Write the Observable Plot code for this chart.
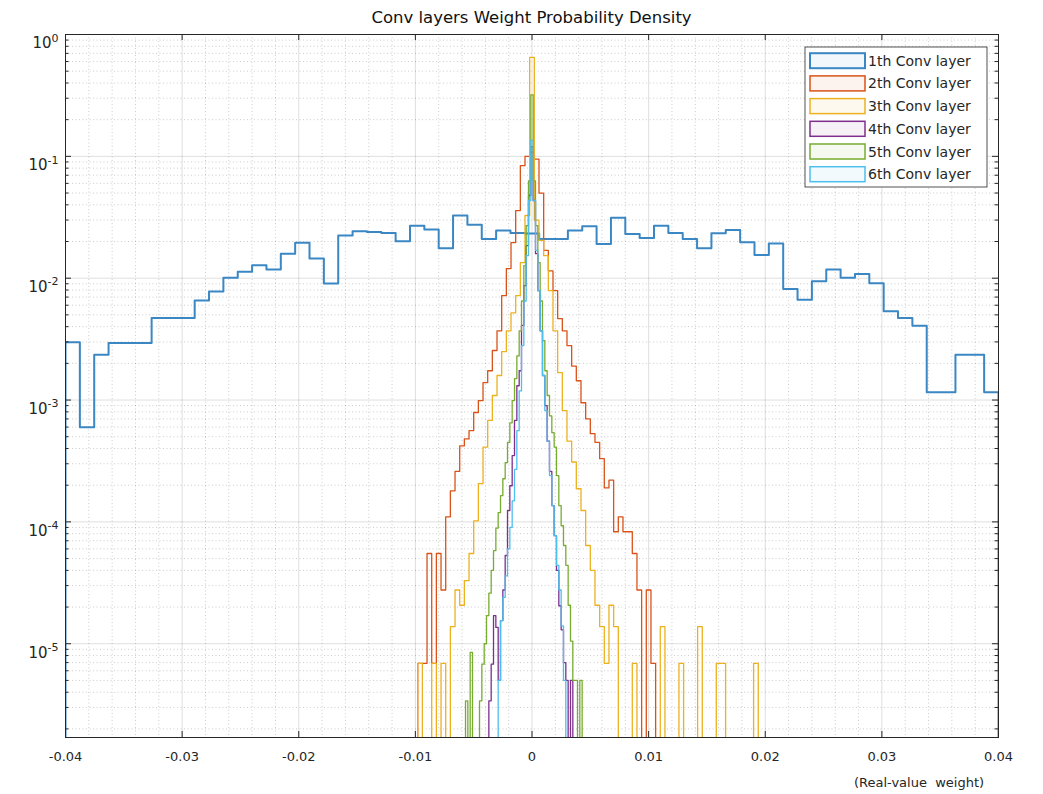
<!DOCTYPE html>
<html>
<head>
<meta charset="utf-8">
<script src="https://cdn.jsdelivr.net/npm/d3@7"></script>
<script src="https://cdn.jsdelivr.net/npm/@observablehq/plot@0.6"></script>
<style>
  html, body { margin: 0; padding: 0; background: #fff; }
</style>
</head>
<body>
<div id="chart"></div>
<script>
// ---------- data ----------
const titleText = "Conv layers Weight Probability Density";
const xLabelText = "(Real-value  weight)";
const seriesNames = ["1th Conv layer", "2th Conv layer", "3th Conv layer", "4th Conv layer", "5th Conv layer", "6th Conv layer"];
const seriesColors = ["#3a87c4", "#D95319", "#EDB120", "#7E2F8E", "#77AC30", "#4DBEEE"];

const xTicks = [-0.04, -0.03, -0.02, -0.01, 0, 0.01, 0.02, 0.03, 0.04];
const yTicks = [1e-5, 1e-4, 1e-3, 1e-2, 1e-1, 1];

// histogram bins: first left edge, bin width, probability per bin
const layer1Start = -0.04, layer1Width = 0.08 / 65;
const layer1 = [0.00298, 0.000597, 0.00235, 0.00294, 0.00294, 0.00294, 0.00472, 0.00472, 0.00472, 0.00655,
  0.00776, 0.0101, 0.0113, 0.0128, 0.0118, 0.0159, 0.0195, 0.0145, 0.00903, 0.0224,
  0.0243, 0.0239, 0.0235, 0.0201, 0.0270, 0.0251, 0.0176, 0.0327, 0.0274, 0.0210,
  0.0246, 0.0235, 0.0233, 0.0210, 0.0210, 0.0246, 0.0267, 0.0191, 0.0313, 0.0231,
  0.0214, 0.0270, 0.0235, 0.0210, 0.0176, 0.0234, 0.0249, 0.0197, 0.0155, 0.0193,
  0.00817, 0.00664, 0.00943, 0.0118, 0.0101, 0.0108, 0.00908, 0.00535, 0.00472, 0.00408,
  0.00116, 0.00116, 0.00235, 0.00235, 0.00116];

const layer2Start = -0.0102, layer2Width = 0.0004;
const layer2 = [0, 6.9e-6, 6.9e-6, 5.5e-5, 6.9e-6, 5.5e-5, 2.76e-5, 1.1e-4, 1.8e-4, 2.6e-4,
  4.2e-4, 4.8e-4, 5.6e-4, 7.9e-4, 9.9e-4, 1.39e-3, 1.74e-3, 2.55e-3, 3.7e-3, 7.2e-3,
  0.012, 0.0196, 0.0359, 0.084, 0.1, 0.108, 0.095, 0.05, 0.0169, 0.0115,
  0.0079, 0.00466, 0.0037, 0.0028, 0.0019, 0.00144, 9.5e-4, 7.0e-4, 5.3e-4, 4.5e-4,
  3.3e-4, 1.9e-4, 2.2e-4, 8.3e-5, 1.1e-4, 8.3e-5, 8.3e-5, 5.5e-5, 2.76e-5, 0,
  2.76e-5, 6.9e-6, 0];

const layer3Start = -0.0102, layer3Width = 0.0004;
const layer3 = [0, 6.9e-6, 0, 0, 6.9e-6, 0, 6.9e-6, 0, 1.38e-5, 2.76e-5,
  2.07e-5, 3.3e-5, 5.5e-5, 1.02e-4, 2.06e-4, 4.1e-4, 6.8e-4, 1.09e-3, 1.59e-3, 2.5e-3,
  3.7e-3, 5.2e-3, 7.2e-3, 0.0134, 0.0327, 0.65, 0.03, 0.0204, 0.0153, 0.0079,
  0.0037, 0.00168, 8.2e-4, 4.6e-4, 3.1e-4, 1.87e-4, 1.24e-4, 6.4e-5, 4.0e-5, 2.07e-5,
  1.38e-5, 6.9e-6, 2.07e-5, 1.38e-5, 0, 0, 0, 6.9e-6, 0, 0,
  0, 0, 0, 1.38e-5, 0, 0, 0, 6.9e-6, 0, 0,
  0, 1.38e-5, 0, 0, 0, 6.9e-6, 6.9e-6, 0, 0, 0,
  0, 0, 0, 6.9e-6, 0, 0];

const layer4Start = -0.0039, layer4Width = 0.0002;
const layer4 = [0, 3.4e-6, 6.8e-6, 1.7e-5, 1.36e-5, 5e-6, 1.55e-5, 2.76e-5, 5.3e-5, 1.24e-4,
  1.98e-4, 3.5e-4, 6.8e-4, 1.31e-3, 1.74e-3, 4.1e-3, 8.7e-3, 0.0185, 0.0477, 0.12,
  0.0434, 0.0159, 0.0079, 3.7e-3, 1.59e-3, 9.0e-4, 4.6e-4, 2.6e-4, 1.36e-4, 7.7e-5,
  4.0e-5, 2.05e-5, 1.3e-5, 7e-6, 5e-6, 0, 5e-6, 0];

const layer5Start = -0.0057, layer5Width = 0.0002;
const layer5 = [3.4e-6, 0, 8.5e-6, 0, 0, 0, 3.4e-6, 6.8e-6, 1.0e-5, 1.7e-5,
  2.6e-5, 4.0e-5, 5.8e-5, 8.9e-5, 1.19e-4, 1.64e-4, 2.26e-4, 3.06e-4, 4.5e-4, 6.5e-4,
  9.9e-4, 1.5e-3, 2.3e-3, 3.7e-3, 6.5e-3, 0.0127, 0.027, 0.063, 0.32, 0.063,
  0.027, 0.0134, 6.5e-3, 3.07e-3, 1.74e-3, 1.09e-3, 7.4e-4, 5.4e-4, 4.1e-4, 2.4e-4,
  1.36e-4, 9.3e-5, 6.4e-5, 4.4e-5, 2.07e-5, 1.05e-5, 5e-6, 5e-6, 0, 5e-6, 0];

const layer6Start = -0.0029, layer6Width = 0.0002;
const layer6 = [5e-6, 1.55e-5, 2.4e-5, 3.6e-5, 6.0e-5, 9.0e-5, 1.49e-4, 2.7e-4, 5.6e-4, 1.19e-3,
  2.8e-3, 6.5e-3, 0.0153, 0.0434, 0.135, 0.0434, 0.0169, 7.9e-3, 3.7e-3, 1.59e-3,
  8.2e-4, 4.6e-4, 2.4e-4, 1.36e-4, 7.7e-5, 4.4e-5, 2.76e-5, 1.4e-5, 5e-6];

const yMin = 1.7e-6, yMax = 1;

// ---------- build stair outlines (MATLAB 'stairs' histogram style) ----------
const FLOOR = 1e-9; // empty bins fall below the axis
function stairs(values, start, width) {
  const pts = [{x: start, y: FLOOR}];
  values.forEach((v, i) => {
    const y = v > 0 ? v : FLOOR;
    pts.push({x: start + i * width, y});
    pts.push({x: start + (i + 1) * width, y});
  });
  pts.push({x: start + values.length * width, y: FLOOR});
  return pts;
}
const layers = [
  stairs(layer1, layer1Start, layer1Width),
  stairs(layer2, layer2Start, layer2Width),
  stairs(layer3, layer3Start, layer3Width),
  stairs(layer4, layer4Start, layer4Width),
  stairs(layer5, layer5Start, layer5Width),
  stairs(layer6, layer6Start, layer6Width)
];

// grid helpers derived from the axis ranges
const xMinor = d3.range(-40, 41, 2).map(i => i / 1000).filter(v => Math.abs(Math.round(v * 100) - v * 100) > 1e-9);
const yMinor = [];
for (let e = -6; e < 0; e++) for (let m = 2; m <= 9; m++) { const v = m * Math.pow(10, e); if (v > yMin && v < yMax) yMinor.push(v); }

const W = 1043, H = 794;
const mL = 65, mR = 45, mT = 34, mB = 57;
const PW = W - mL - mR, PH = H - mT - mB;
const axisColor = "#262626";

const plot = Plot.plot({
  width: W, height: H,
  marginLeft: mL, marginRight: mR, marginTop: mT, marginBottom: mB,
  style: {fontFamily: "DejaVu Sans", fontSize: "13px", color: axisColor, background: "#fff", overflow: "visible"},
  x: {domain: [-0.04, 0.04], label: null},
  y: {type: "log", domain: [yMin, yMax], label: null},
  marks: [
    Plot.gridX(xMinor, {stroke: "#000", strokeOpacity: 0.2, strokeDasharray: "1,2.5"}),
    Plot.gridY(yMinor, {stroke: "#000", strokeOpacity: 0.2, strokeDasharray: "1,2.5"}),
    Plot.gridX(xTicks, {stroke: "#000", strokeOpacity: 0.13}),
    Plot.gridY(yTicks, {stroke: "#000", strokeOpacity: 0.13}),
    ...layers.map((d, i) => Plot.line(d, {x: "x", y: "y", stroke: seriesColors[i], strokeWidth: i === 0 ? 2 : 1.3, clip: true})),
    Plot.frame({stroke: axisColor, strokeWidth: 1}),
    Plot.tickX(xTicks, {x: d => d, insetTop: PH - 6, stroke: axisColor}),
    Plot.tickX(xTicks, {x: d => d, insetBottom: PH - 6, stroke: axisColor}),
    Plot.tickY(yTicks, {y: d => d, insetRight: PW - 6, stroke: axisColor}),
    Plot.tickY(yTicks, {y: d => d, insetLeft: PW - 6, stroke: axisColor}),
    Plot.tickY(yMinor, {y: d => d, insetRight: PW - 3.5, stroke: axisColor}),
    Plot.tickY(yMinor, {y: d => d, insetLeft: PW - 3.5, stroke: axisColor}),
    Plot.axisX({ticks: xTicks, tickSize: 0, tickPadding: 14, label: null, tickFormat: d => d === 0 ? "0" : d.toFixed(2)}),
    Plot.axisY({ticks: yTicks, tickSize: 0, tickPadding: 7, label: null, tickFormat: d => String(Math.round(Math.log10(d)))})
  ]
});

document.getElementById("chart").appendChild(plot);
const svg = d3.select(plot);

// superscript exponents on y tick labels (10^n)
svg.selectAll('g[aria-label="y-axis tick label"] text').each(function() {
  const e = this.textContent;
  const t = d3.select(this);
  t.text(null).attr("dy", "0.6em").style("font-size", "15px");
  t.append("tspan").text("10");
  t.append("tspan").attr("dy", "-0.6em").style("font-size", "11px").text(e);
});

// title
svg.append("text")
  .attr("x", mL + PW / 2).attr("y", 23)
  .attr("text-anchor", "middle")
  .style("font-size", "16.5px").attr("fill", "#111")
  .text(titleText);

// x label
svg.append("text")
  .attr("x", 919).attr("y", 787)
  .attr("text-anchor", "middle")
  .style("font-size", "13px").attr("fill", axisColor)
  .style("white-space", "pre")
  .text(xLabelText);

// legend
const lg = svg.append("g").attr("text-anchor", "start");
const lx = 805, ly = 47, lw = 182, lh = 140;
lg.append("rect").attr("x", lx).attr("y", ly).attr("width", lw).attr("height", lh)
  .attr("fill", "#fff").attr("stroke", axisColor).attr("stroke-width", 0.8);
seriesNames.forEach((name, i) => {
  const cy = ly + 13.7 + i * 22.7;
  lg.append("rect").attr("x", lx + 5).attr("y", cy - 7.5).attr("width", 55).attr("height", 15)
    .attr("fill", seriesColors[i]).attr("fill-opacity", 0.07)
    .attr("stroke", seriesColors[i]).attr("stroke-width", i === 0 ? 2 : 1.5);
  lg.append("text").attr("x", lx + 63).attr("y", cy).attr("dy", "0.36em")
    .attr("text-anchor", "start")
    .style("font-size", "14px").attr("fill", axisColor).text(name);
});
</script>
</body>
</html>
